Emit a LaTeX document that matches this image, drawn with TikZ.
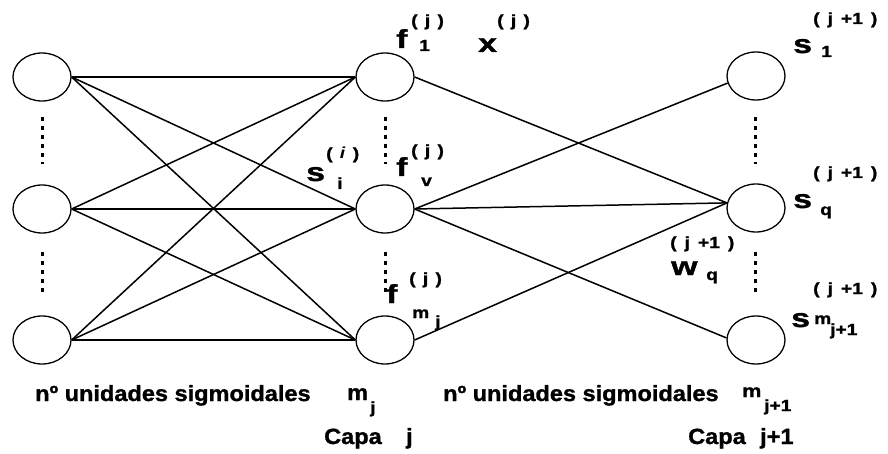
\documentclass[tikz,border=0pt]{standalone}
\usepackage{fontspec}
\setmainfont{Liberation Sans}[BoldFeatures={FakeBold=1.2}]
\usepackage{graphicx}
\usetikzlibrary{shapes.geometric}
\newcommand\lettr[1]{\scalebox{1.3}[1]{\fontsize{26}{26}\selectfont\bfseries #1}}
\newcommand\supr[1]{\scalebox{1.2}[1]{\fontsize{16}{16}\selectfont\bfseries #1}}
\newcommand\captx[1]{\scalebox{1.07}[1]{\fontsize{22}{22}\selectfont\bfseries #1}}
\newcommand\pj{(\hspace{.38em}j\hspace{.38em})}
\newcommand\pjj{(\hspace{.42em}j\hspace{.42em}+1\hspace{.42em})}
\begin{document}
\begin{tikzpicture}[x=1pt,y=-1pt,
 unit/.style={ellipse, draw, line width=1.3pt, minimum width=58pt, minimum height=48pt, inner sep=0pt},
 conn/.style={line width=1.5pt},
 dots/.style={line width=3pt, dash pattern=on 4pt off 5pt},
 txt/.style={inner sep=0pt, anchor=base west}]
\useasboundingbox (0,0) rectangle (888,454);
% units
\node[unit] (L1) at (42,77) {};
\node[unit] (L2) at (42,209) {};
\node[unit] (L3) at (42,340) {};
\node[unit] (M1) at (385,77) {};
\node[unit] (M2) at (385,209) {};
\node[unit] (M3) at (385,340) {};
\node[unit] (R1) at (756,76) {};
\node[unit] (R2) at (756,208) {};
\node[unit] (R3) at (756,340) {};
% dotted
\draw[dots] (42,117) -- (42,164);
\draw[dots] (42,252) -- (42,296);
\draw[dots] (385,117) -- (385,164);
\draw[dots] (385,252) -- (385,296);
\draw[dots] (755,117) -- (755,164);
\draw[dots] (755,252) -- (755,296);
% connections layer j
\foreach \a in {L1,L2,L3}{
  \foreach \b in {M1,M2,M3}{
    \draw[conn] (\a.east) -- (\b.west);
  }
}
% connections layer j+1
\draw[conn] (M1.east) -- (R2.170);
\draw[conn] (M2.east) -- (R1.194);
\draw[conn] (M2.east) -- (R2.170);
\draw[conn] (M2.east) -- (R3.176);
\draw[conn] (M3.east) -- (R2.170);
% labels
\node[txt] (f1) at (396,48) {\lettr{f}};
\node[txt] (f1s) at (411,26) {\supr{\pj}};
\node[txt] (f1b) at (419,51) {\supr{1}};
\node[txt] (xj) at (478,52) {\lettr{x}};
\node[txt] (xjs) at (497,26) {\supr{\pj}};
\node[txt] (s1) at (793,53) {\lettr{s}};
\node[txt] (s1s) at (813,24) {\supr{\pjj}};
\node[txt] (s1b) at (821,57) {\supr{1}};
\node[txt] (si) at (306,181) {\lettr{s}};
\node[txt] (sis) at (326,159) {\supr{(\hspace{.38em}\textit{i}\hspace{.38em})}};
\node[txt] (sib) at (337,189) {\supr{i}};
\node[txt] (fv) at (396,176) {\lettr{f}};
\node[txt] (fvs) at (411,156) {\supr{\pj}};
\node[txt] (fvb) at (421,186) {\supr{v}};
\node[txt] (sq) at (793,208) {\lettr{s}};
\node[txt] (sqs) at (813,178) {\supr{\pjj}};
\node[txt] (sqb) at (820,215) {\supr{q}};
\node[txt] (fm) at (386,303) {\lettr{f}};
\node[txt] (fms) at (409,284) {\supr{\pj}};
\node[txt] (fmb) at (412,318) {\supr{m}};
\node[txt] (fmbb) at (435,327) {\supr{j}};
\node[txt] (wq) at (671,275) {\lettr{w}};
\node[txt] (wqs) at (670,248) {\supr{\pjj}};
\node[txt] (wqb) at (706,280) {\supr{q}};
\node[txt] (sm) at (791,327) {\lettr{s}};
\node[txt] (sms) at (813,294) {\supr{\pjj}};
\node[txt] (smb) at (814,324) {\supr{m}};
\node[txt] (smbb) at (830,335) {\supr{j+1}};
% bottom captions
\node[txt] (nl) at (35,401) {\captx{nº unidades sigmoidales}};
\node[txt] (ml) at (347,400) {\captx{m}};
\node[txt] (mlb) at (370,413) {\supr{j}};
\node[txt] (cl) at (324,444) {\captx{Capa}};
\node[txt] (clj) at (406,444) {\captx{j}};
\node[txt] (nr) at (443,401) {\captx{nº unidades sigmoidales}};
\node[txt] (mr) at (742,397) {\supr{\fontsize{18}{18}\selectfont m}};
\node[txt] (mrb) at (764,411) {\supr{j+1}};
\node[txt] (cr) at (688,444) {\captx{Capa}};
\node[txt] (crj) at (760,444) {\captx{j+1}};
\end{tikzpicture}
\end{document}
